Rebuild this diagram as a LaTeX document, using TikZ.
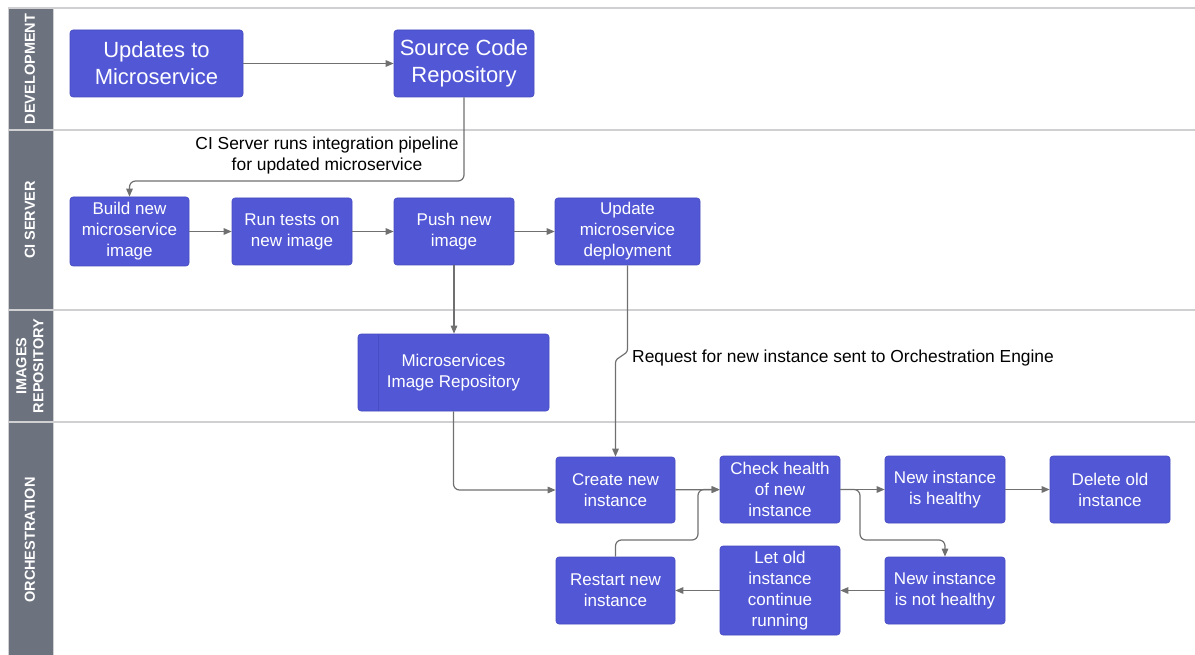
\documentclass[tikz,border=0pt]{standalone}
\usepackage{fontspec}
\setmainfont{Liberation Sans}
\usetikzlibrary{arrows.meta}
\definecolor{boxblue}{RGB}{82,87,214}
\definecolor{boxedge}{RGB}{70,74,190}
\definecolor{lanegrey}{RGB}{108,114,126}
\definecolor{sepgrey}{RGB}{208,208,210}
\definecolor{arrgrey}{RGB}{112,112,112}
\tikzset{
  box/.style={rectangle, rounded corners=3pt, fill=boxblue, draw=boxedge, line width=0.6pt,
    text=white, align=center, inner sep=0pt, font=\fontsize{17}{21}\selectfont},
  bigbox/.style={box, font=\fontsize{22}{27}\selectfont},
  lanetext/.style={rotate=90, text=white, align=center, font=\bfseries\fontsize{14.5}{17}\selectfont},
  lbl/.style={text=black, align=center, inner sep=0pt, font=\fontsize{17.4}{21}\selectfont},
  arr/.style={draw=arrgrey, line width=1.2pt, -{Triangle[length=8pt,width=6.5pt]}},
}
\begin{document}
\begin{tikzpicture}[x=1pt,y=-1pt]
\useasboundingbox (0,0) rectangle (1195,655);
% lanes
\fill[lanegrey] (8,8) rectangle (53,655);
\draw[sepgrey, line width=1.5pt] (8,8) -- (1195,8);
\draw[sepgrey, line width=1.5pt] (8,130) -- (1195,130);
\draw[sepgrey, line width=1.5pt] (8,310) -- (1195,310);
\draw[sepgrey, line width=1.5pt] (8,422) -- (1195,422);
\draw[sepgrey, line width=0.8pt] (53,8) -- (53,655);
\draw[sepgrey, line width=0.8pt] (8,8) -- (8,655);
\node[lanetext] (ldev) at (30,69) {DEVELOPMENT};
\node[lanetext] (lci) at (30,220) {CI SERVER};
\node[lanetext] (limg) at (30,366) {IMAGES\\REPOSITORY};
\node[lanetext] (lorch) at (30,540) {ORCHESTRATION};
% nodes
\node[bigbox, minimum width=173pt, minimum height=67pt] (upd) at (156.5,63.5) {Updates to\\Microservice};
\node[bigbox, minimum width=140pt, minimum height=67pt] (src) at (464,63.5) {Source Code\\Repository};
\node[box, minimum width=119pt, minimum height=69pt] (build) at (129.5,231.5) {Build new\\microservice\\image};
\node[box, minimum width=120pt, minimum height=67pt] (run) at (292,231.5) {Run tests on\\new image};
\node[box, minimum width=120pt, minimum height=67pt] (push) at (454,231.5) {Push new\\image};
\node[box, minimum width=145pt, minimum height=67pt] (deploy) at (627.5,231.5) {Update\\microservice\\deployment};
\node[box, minimum width=191pt, minimum height=77pt] (imgrepo) at (453.5,372.5) {Microservices\\Image Repository};
\draw[boxedge!85!boxblue, line width=0.7pt] (378,334.5) -- (378,410.5);
\node[box, minimum width=119pt, minimum height=66pt] (create) at (615.5,490) {Create new\\instance};
\node[box, minimum width=120pt, minimum height=67pt] (check) at (780,489.5) {Check health\\of new\\instance};
\node[box, minimum width=120pt, minimum height=67pt] (healthy) at (945,489.5) {New instance\\is healthy};
\node[box, minimum width=120pt, minimum height=67pt] (delete) at (1110,489.5) {Delete old\\instance};
\node[box, minimum width=119pt, minimum height=67pt] (restart) at (615.5,590.5) {Restart new\\instance};
\node[box, minimum width=120pt, minimum height=89pt] (letold) at (780,590.5) {Let old\\instance\\continue\\running};
\node[box, minimum width=120pt, minimum height=67pt] (nothealthy) at (945,590.5) {New instance\\is not healthy};
% labels
\node[lbl] (l1) at (327,155.5) {CI Server runs integration pipeline\\for updated microservice};
\node[lbl, anchor=west] (l2) at (632,358) {Request for new instance sent to Orchestration Engine};
% coordinates
\coordinate (c1) at (464,181);
\coordinate (c2) at (129.5,181);
\coordinate (c3) at (627.5,349);
\coordinate (c4) at (615.5,363);
\coordinate (c5) at (453.5,490);
\coordinate (c6) at (615.5,540);
\coordinate (c7) at (698,540);
\coordinate (c8) at (698,489.5);
\coordinate (c9) at (860,489.5);
\coordinate (c10) at (860,540);
\coordinate (c11) at (945,540);
% connectors
\draw[arr] (upd) -- (src);
\draw[arr, rounded corners=6pt] (src.south) -- (c1) -- (c2) -- (build.north);
\draw[arr] (build) -- (run);
\draw[arr] (run) -- (push);
\draw[arr] (push) -- (deploy);
\draw[arr] (push.south) -- (imgrepo.north -| push.south);
\draw[arr] (deploy.south) -- (c3) .. controls (627.5,356) and (615.5,356) .. (c4) -- (create.north);
\draw[arr, rounded corners=6pt] (imgrepo.south) -- (c5) -- (create.west);
\draw[arr] (create) -- (check);
\draw[arr, rounded corners=6pt] (restart.north) -- (c6) -- (c7) -- (c8) -- (check.west);
\draw[arr] (check) -- (healthy);
\draw[arr, rounded corners=6pt] (check.east) -- (c9) -- (c10) -- (c11) -- (nothealthy.north);
\draw[arr] (healthy) -- (delete);
\draw[arr] (nothealthy) -- (letold);
\draw[arr] (letold) -- (restart);
\end{tikzpicture}
\end{document}
